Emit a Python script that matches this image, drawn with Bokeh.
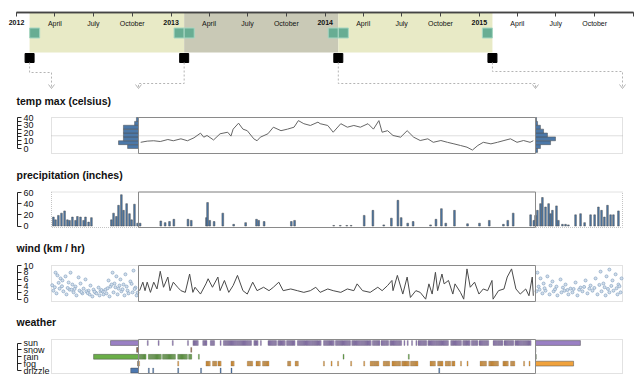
import datetime as dt
from bokeh.plotting import figure
from bokeh.models import Range1d, LinearAxis, FixedTicker
from bokeh.core.properties import value
from bokeh.embed import file_html
from bokeh.resources import INLINE

# ---------------------------------------------------------------- data
timeline_years = [2012, 2013, 2014, 2015]
timeline_end = "2016-01-01"
timeline_months = [4, 7, 10]
timeline_month_names = ["April", "July", "October"]

band_starts = ["2012-02-01", "2013-02-01", "2014-02-01"]
band_ends = ["2013-02-01", "2014-02-01", "2015-02-01"]
focus_band = 1

panel_titles = ["temp max (celsius)", "precipitation (inches)", "wind (km / hr)", "weather"]

temp_ticks = [0, 10, 20, 30, 40]
temp_minor_ticks = [5, 15, 25, 35]
precip_ticks = [0, 20, 40, 60]
wind_ticks = [0, 2, 4, 6, 8, 10]
weather_cats = ["drizzle", "fog", "rain", "snow", "sun"]
weather_colors = ["#4c78b0", "#f0a23c", "#6aae48", "#9b6a4c", "#9a80c4"]

temp_mean = 16.4
temp_bin_starts = [-5, 0, 5, 10, 15, 20, 25, 30, 35]
temp_hist_prev = [0, 42, 77, 58, 58, 58, 58, 15, 8]
temp_hist_next = [8, 19, 58, 77, 46, 31, 19, 8, 4]

# main year (from 2013-02-01), day offsets and values
temp_days = [2, 8, 14, 20, 27, 32, 39, 45, 51, 57, 60, 63, 69, 75, 82, 85, 87, 92, 96, 100,
             106, 109, 112, 119, 124, 131, 137, 143, 147, 152, 158, 165, 167, 174, 179, 186,
             192, 198, 204, 211, 216, 221, 224, 229, 234, 241, 247, 253, 259, 266, 271, 278,
             284, 290, 296, 302, 307, 312, 317, 324, 330, 336, 342, 348, 354, 360, 363]
temp_vals = [8, 9.5, 10, 9, 11.6, 10, 12.5, 10, 13.8, 19.8, 14.6, 16.8, 11, 19, 21, 16, 25, 32.7, 25, 23,
             12.5, 10, 14.6, 19, 27.5, 23, 25, 27.5, 36, 32, 29.7, 34, 32, 29.7, 21, 32,
             27.5, 29.7, 27.5, 32, 25, 36, 21, 23, 16.8, 14.6, 23, 14.6, 10.3, 12.5, 8, 10.3,
             8, 6, 3.9, 1.7, -2, 3.9, 8, 6, 8, 10.3, 12.5, 8, 10.3, 8, 10]

precip_days = [1, 20, 24, 28, 32, 45, 48, 62, 63, 65, 69, 77, 87, 98, 108, 110, 115, 140, 143,
               179, 185, 191, 195, 207, 215, 225, 232, 238, 241, 247, 252, 268, 273, 278, 282,
               290, 302, 313, 322, 335, 339, 344, 360, 363]
precip_vals = [5, 9, 6, 8, 12, 12, 10, 15, 42, 10, 8, 23, 3, 6, 12, 10, 8, 8, 10,
               1, 1, 1, 1, 19, 28, 2, 14, 46, 15, 5, 8, 2, 12, 31, 5,
               28, 4, 5, 10, 3, 10, 23, 20, 10]

precip_prev_days = [8, 17, 29, 42, 55, 67, 76, 88, 101, 109, 122, 135, 143, 156, 168,
                    252, 261, 273, 282, 294, 303, 316, 328, 337, 349, 362]
precip_prev_vals = [16, 11, 19, 23, 27, 11, 10, 16, 10, 17, 16, 10, 16, 7, 15,
                    11, 23, 17, 37, 56, 28, 40, 22, 11, 39, 5]
precip_next_days = [0, 8, 21, 29, 42, 55, 63, 71, 88, 96, 113, 126, 138, 168, 189, 206,
                    231, 248, 264, 277, 289, 302, 315, 327, 348]
precip_next_vals = [19, 28, 40, 51, 34, 40, 22, 28, 36, 10, 3, 3, 2, 20, 22, 6,
                    20, 20, 34, 28, 16, 37, 20, 20, 27]

wind_days = [1, 4, 6, 8, 11, 14, 17, 20, 23, 27, 29, 32, 36, 39, 43, 47, 50, 52, 57, 62, 64, 68,
             73, 75, 79, 83, 87, 91, 96, 100, 105, 109, 115, 120, 124, 129, 133, 140, 146, 152,
             158, 163, 167, 174, 179, 186, 192, 198, 201, 206, 213, 220, 224, 229, 233, 234, 238,
             243, 247, 250, 255, 259, 264, 267, 270, 273, 275, 279, 281, 285, 289, 291, 296, 299,
             302, 305, 309, 313, 317, 321, 325, 326, 331, 336, 339, 343, 347, 351, 356, 359, 362, 363]
wind_vals = [2.6, 5.1, 2.6, 5.1, 2.1, 5.1, 3.1, 8.3, 3.6, 6.6, 2.6, 5.1, 3.6, 2.6, 2.1, 7.5, 2.1, 3.6,
             1.6, 4.6, 6.1, 3.6, 6.6, 2.6, 5.6, 2.1, 4.1, 7.1, 2.6, 1.6, 5.1, 2.6, 3.6, 2.6, 3.6, 5.1,
             2.6, 3.1, 2.6, 2.1, 2.6, 3.6, 2.1, 3.1, 2.6, 2.1, 3.1, 2.6, 4.6, 2.6, 2.1, 3.6, 2.6, 4.1,
             5.6, 2.6, 7.1, 1.6, 6.6, 0.6, 2.6, 2.1, 0.1, 4.6, 1.6, 8.0, 2.6, 7.5, 4.6, 5.6, 1.6, 4.6,
             2.1, 0.1, 9.0, 3.6, 5.1, 1.6, 3.1, 2.6, 5.6, 0.1, 2.6, 3.1, 6.6, 9.0, 3.1, 1.6, 3.1, 1.1,
             6.6, 1.1]

wind_prev_days = [17, 25, 38, 46, 59, 72, 80, 88, 101, 114, 122, 135, 143, 156, 164, 177, 185, 198,
                  206, 219, 227, 240, 248, 257, 265, 273, 282, 290, 303, 311, 320, 332, 345, 353, 362,
                  8, 21, 34, 50, 63, 76, 93, 105, 118, 130, 147, 160, 172, 189, 202, 215, 231, 244,
                  261, 278, 294, 307, 324, 341, 358,
                  3, 14, 30, 44, 68, 84, 97, 126, 152, 181, 210, 236, 253, 269, 286, 299, 316, 337, 350]
wind_prev_vals = [7.9, 7.1, 6.2, 5.6, 6.8, 5.0, 7.9, 4.4, 3.8, 6.5, 4.7, 3.2, 5.9, 2.6, 4.1, 2.9, 2.0,
                  3.5, 2.4, 1.5, 2.9, 5.6, 3.8, 7.9, 4.7, 6.8, 3.2, 5.9, 4.4, 7.4, 2.6, 5.3, 8.5, 3.5,
                  2.0, 2.6, 1.8, 3.2, 2.4, 1.5, 2.9, 2.1, 1.2, 2.6, 1.8, 2.4, 1.5, 0.9, 1.8, 1.2, 2.4,
                  1.8, 0.9, 2.1, 1.5, 2.4, 1.2, 1.8, 2.1, 1.2,
                  4.2, 3.6, 4.9, 3.9, 3.4, 2.9, 3.1, 2.2, 1.9, 2.3, 2.8, 3.3, 4.4, 3.6, 4.1, 3.0, 3.8, 4.6, 3.1]
wind_next_days = [8, 21, 34, 50, 71, 88, 105, 126, 147, 168, 189, 210, 231, 252, 273, 285, 298, 310,
                  323, 336, 348, 361, 4, 17, 29, 42, 59, 76, 92, 109, 122, 138, 155, 176, 197, 218,
                  239, 260, 277, 294, 310, 327, 344, 357,
                  13, 38, 63, 82, 115, 134, 160, 183, 204, 226, 247, 268, 290, 304, 318, 340, 352]
wind_next_vals = [7.9, 6.2, 4.7, 6.8, 5.3, 3.8, 5.9, 4.4, 3.2, 5.0, 3.5, 5.6, 4.1, 6.2, 8.2, 4.7, 6.8,
                  8.8, 5.6, 7.4, 4.4, 6.2, 2.4, 2.9, 1.8, 2.6, 1.5, 2.4, 1.2, 2.1, 2.6, 1.5, 2.1, 1.2,
                  2.4, 1.8, 2.6, 1.5, 2.4, 1.2, 2.1, 2.6, 1.5, 2.1,
                  3.8, 3.3, 4.1, 3.0, 3.5, 2.8, 3.1, 2.9, 3.7, 3.2, 3.4, 4.3, 3.6, 3.1, 4.0, 3.3, 3.9]

# weather of the main year: runs of days (inclusive) per category
weather_runs = {
    "sun": [(8, 8), (18, 18), (31, 31), (45, 45), (50, 54), (59, 62), (66, 69), (75, 75),
            (78, 103), (106, 109), (112, 112), (119, 126), (128, 134), (136, 143), (146, 167),
            (170, 179), (181, 194), (196, 213), (215, 221), (223, 229), (231, 241), (244, 244),
            (247, 247), (251, 251), (255, 255), (257, 264), (266, 284), (287, 296), (298, 304),
            (306, 311), (313, 321), (326, 334), (336, 344), (346, 360)],
    "fog": [(0, 0), (36, 36), (62, 65), (68, 71), (73, 75), (85, 87), (100, 104), (108, 111),
            (114, 119), (137, 139), (144, 146), (170, 170), (177, 177), (183, 183), (195, 195),
            (207, 207), (213, 220), (225, 230), (233, 240), (242, 248), (250, 256), (268, 272),
            (275, 279), (282, 286), (288, 290), (296, 296), (302, 302), (314, 319), (322, 330),
            (335, 339), (342, 345), (354, 354), (359, 359)],
    "rain": [(0, 6), (9, 20), (22, 33), (36, 44), (46, 48), (55, 55), (188, 188), (248, 248)],
    "snow": [(48, 48)],
    "drizzle": [(9, 9), (13, 13), (36, 36), (57, 57), (75, 75), (85, 85), (276, 276)],
}
weather_count_prev = [33, 4, 191, 8, 119]
weather_count_next = [0, 162, 3, 1, 191]

# ---------------------------------------------------------------- layout (page pixels)
FIG_W, FIG_H = 638, 378
PX0, PY0 = 0, 0
TL_X0, TL_X1 = 16, 633
AXIS_X = 17
CTX_L0, MAIN_X0, MAIN_X1, CTX_R1 = 51, 138, 535, 622
TITLE_X = 16
TITLE_Y = [100, 174, 247, 321]
BOX = [(117, 153), (191.5, 227), (265, 301), (339, 373)]
FONT = "Liberation Sans"
DAY = 86400000.0


def ms(s):
    d = dt.datetime.strptime(s, "%Y-%m-%d") if isinstance(s, str) else s
    return (d - dt.datetime(1970, 1, 1)).total_seconds() * 1000.0


def rng(v0, p0, v1, p1, lo, hi):
    k = (v1 - v0) / (p1 - p0)
    return Range1d(start=v0 + (lo - p0) * k, end=v0 + (hi - p0) * k)


XL, XR = PX0, PX0 + FIG_W
YB, YT = PY0 + FIG_H, PY0

T0, T1 = ms(f"{timeline_years[0]}-01-01"), ms(timeline_end)
main0, main1 = ms(band_starts[focus_band]), ms(band_ends[focus_band])
prev0, prev1 = ms(band_starts[focus_band - 1]), ms(band_ends[focus_band - 1])
next0, next1 = ms(band_starts[focus_band + 1]), ms(band_ends[focus_band + 1])

p = figure(width=FIG_W, height=FIG_H, x_range=Range1d(XL, XR), y_range=Range1d(YB, YT),
           x_axis_type=None, y_axis_type=None, toolbar_location=None, output_backend="svg",
           min_border=0, outline_line_color=None)
p.background_fill_color = "white"
p.border_fill_color = "white"

p.extra_x_ranges = {
    "tl": rng(T0, TL_X0, T1, TL_X1, XL, XR),
    "main": rng(main0, MAIN_X0, main1, MAIN_X1, XL, XR),
    "prev": rng(prev0, CTX_L0, prev1, MAIN_X0, XL, XR),
    "next": rng(next0, MAIN_X1, next1, CTX_R1, XL, XR),
    "histL": rng(0, MAIN_X0, 335, CTX_L0, XL, XR),
    "histR": rng(0, MAIN_X1, 335, CTX_R1, XL, XR),
    "cntL": rng(0, MAIN_X0, 370, CTX_L0, XL, XR),
    "cntR": rng(0, MAIN_X1, 370, CTX_R1, XL, XR),
}
p.extra_y_ranges = {
    "temp": rng(40, 117, 0, 148, YB, YT),
    "precip": rng(60, 192, 0, 225.5, YB, YT),
    "wind": rng(10, 265, 0, 299, YB, YT),
    "weather": rng(4, 342.5, 0, 370, YB, YT),
}

# ---------------------------------------------------------------- timeline
for i, (a, b) in enumerate(zip(band_starts, band_ends)):
    p.quad(left=[ms(a)], right=[ms(b)], top=[12], bottom=[52], x_range_name="tl",
           fill_color="#c9c9b6" if i == focus_band else "#e8eac6", line_color=None)
handle_x = []
for a, b in zip(band_starts, band_ends):
    handle_x += [ms(a) + 12 * DAY, ms(b) - 12 * DAY]
p.scatter(x=handle_x, y=[32.5] * len(handle_x), marker="square", size=10, x_range_name="tl",
          fill_color="#68ad93", line_color="#a6d6c2", line_width=1)

square_dates = band_starts + [band_ends[-1]]
p.scatter(x=[ms(d) for d in square_dates], y=[57.5] * 4, marker="square", size=9,
          x_range_name="tl", fill_color="black", line_color="black")


def tl_px(s):
    return TL_X0 + (ms(s) - T0) / (T1 - T0) * (TL_X1 - TL_X0)


targets = [CTX_L0, MAIN_X0, MAIN_X1, CTX_R1]
bends = [72, 83, 83, 71]
xs, ys = [], []
for d, tx, by in zip(square_dates, targets, bends):
    sx = tl_px(d)
    xs.append([sx, sx, tx, tx])
    ys.append([62, by, by, 87.5])
p.multi_line(xs=xs, ys=ys, line_color="#b4b4b4", line_width=1, line_dash="2 2")
p.multi_line(xs=[[t - 3, t, t + 3] for t in targets], ys=[[84, 88, 84]] * 4,
             line_color="#b4b4b4", line_width=1)

year_ticks = [ms(f"{y}-01-01") for y in timeline_years]
month_ticks, month_over = [], {}
for y in timeline_years:
    for m, name in zip(timeline_months, timeline_month_names):
        t = ms(f"{y}-{m:02d}-01")
        month_ticks.append(t)
        month_over[t] = name
month_ticks.append(T1)
month_over[T1] = ""

ax_m = LinearAxis(x_range_name="tl", fixed_location=12, ticker=FixedTicker(ticks=month_ticks),
                  major_label_overrides=month_over, bounds=(T0, T1))
ax_y = LinearAxis(x_range_name="tl", fixed_location=12, ticker=FixedTicker(ticks=year_ticks),
                  major_label_overrides={t: str(y) for t, y in zip(year_ticks, timeline_years)},
                  bounds=(T0, T1))
for ax, bold in ((ax_m, False), (ax_y, True)):
    ax.axis_line_color = "#444"
    ax.axis_line_width = 1.5
    ax.major_tick_line_color = "#444"
    ax.major_tick_out = 4
    ax.major_tick_in = 0
    ax.minor_tick_out = 0
    ax.minor_tick_in = 0
    ax.major_label_standoff = 3
    ax.major_label_text_font = FONT
    ax.major_label_text_font_size = "7px"
    ax.major_label_text_color = "#111"
    ax.major_label_text_font_style = "bold" if bold else "normal"
    p.add_layout(ax, "below")

# ---------------------------------------------------------------- panels
p.text(x=[TITLE_X] * 4, y=TITLE_Y, text=panel_titles, text_font=value(FONT),
       text_font_style="bold", text_font_size="10.5px", text_baseline="middle",
       text_align="left", text_color="#111")

for top, bot in BOX:
    p.quad(left=[CTX_L0], right=[CTX_R1], top=[top], bottom=[bot], fill_color=None,
           line_color="#c4c4c4", line_dash="1 1", line_width=1)


def main_box(k):
    top, bot = BOX[k]
    p.quad(left=[MAIN_X0], right=[MAIN_X1], top=[top], bottom=[bot], fill_color=None,
           line_color="#8a8a8a", line_width=1)


def y_axis(rname, ticks, minor=None, overrides=None):
    ax = LinearAxis(y_range_name=rname, fixed_location=AXIS_X,
                    ticker=FixedTicker(ticks=ticks, minor_ticks=minor or []),
                    bounds=(min(ticks), max(ticks)))
    ax.axis_line_color = "#222"
    ax.major_tick_line_color = "#222"
    ax.minor_tick_line_color = "#222"
    ax.major_tick_out = 4
    ax.major_tick_in = 0
    ax.minor_tick_out = 4 if minor else 0
    ax.minor_tick_in = 0
    ax.major_label_standoff = 2
    ax.major_label_text_font = FONT
    ax.major_label_text_font_size = "9px"
    ax.major_label_text_color = "#111"
    if overrides:
        ax.major_label_overrides = overrides
    p.add_layout(ax, "right")


BAR = "#4c78a8"
EDGE = "#4d4d4d"

# temp
p.segment(x0=[CTX_L0], x1=[CTX_R1], y0=[temp_mean], y1=[temp_mean], y_range_name="temp",
          line_color="#bdbdbd", line_dash="1 1", line_width=1)
centers = [b + 2.5 for b in temp_bin_starts]
p.hbar(y=centers, height=5, left=0, right=temp_hist_prev, x_range_name="histL",
       y_range_name="temp", fill_color=BAR, line_color=EDGE, line_width=0.5)
p.hbar(y=centers, height=5, left=0, right=temp_hist_next, x_range_name="histR",
       y_range_name="temp", fill_color=BAR, line_color=EDGE, line_width=0.5)
p.line(x=[main0 + d * DAY for d in temp_days], y=temp_vals, x_range_name="main",
       y_range_name="temp", line_color="#666666", line_width=1)
main_box(0)
y_axis("temp", temp_ticks, temp_minor_ticks)

# precipitation
p.vbar(x=[prev0 + d * DAY for d in precip_prev_days], top=precip_prev_vals, bottom=0,
       width=7 * DAY, x_range_name="prev", y_range_name="precip",
       fill_color=BAR, line_color=EDGE, line_width=0.5)
p.vbar(x=[next0 + d * DAY for d in precip_next_days], top=precip_next_vals, bottom=0,
       width=7 * DAY, x_range_name="next", y_range_name="precip",
       fill_color=BAR, line_color=EDGE, line_width=0.5)
p.vbar(x=[main0 + (d + 0.5) * DAY for d in precip_days], top=precip_vals, bottom=0,
       width=1.6 * DAY, x_range_name="main", y_range_name="precip",
       fill_color=BAR, line_color=EDGE, line_width=0.5)
main_box(1)
y_axis("precip", precip_ticks)

# wind
p.scatter(x=[prev0 + d * DAY for d in wind_prev_days], y=wind_prev_vals, size=3,
          x_range_name="prev", y_range_name="wind", fill_color="#d3dfec",
          line_color="#86a3c2", line_width=0.7)
p.scatter(x=[next0 + d * DAY for d in wind_next_days], y=wind_next_vals, size=3,
          x_range_name="next", y_range_name="wind", fill_color="#d3dfec",
          line_color="#86a3c2", line_width=0.7)
p.line(x=[main0 + d * DAY for d in wind_days], y=wind_vals, x_range_name="main",
       y_range_name="wind", line_color="#4a4a4a", line_width=1)
main_box(2)
y_axis("wind", wind_ticks)

# weather
rows = list(range(len(weather_cats)))
p.hbar(y=rows, height=0.7, left=0, right=weather_count_prev, x_range_name="cntL",
       y_range_name="weather", fill_color=weather_colors, line_color=EDGE, line_width=0.5)
p.hbar(y=rows, height=0.7, left=0, right=weather_count_next, x_range_name="cntR",
       y_range_name="weather", fill_color=weather_colors, line_color=EDGE, line_width=0.5)
for idx, cat in enumerate(weather_cats):
    days = []
    for a, b in weather_runs[cat]:
        days.extend(range(a, b + 1))
    p.rect(x=[main0 + (d + 0.5) * DAY for d in days], y=[idx] * len(days), width=DAY,
           height=0.7, x_range_name="main", y_range_name="weather",
           fill_color=weather_colors[idx], line_color="#3a3a3a", line_width=0.3,
           line_alpha=0.7)
main_box(3)
y_axis("weather", rows, overrides={i: c for i, c in enumerate(weather_cats)})

open("out.html", "w").write(file_html(p, INLINE))
